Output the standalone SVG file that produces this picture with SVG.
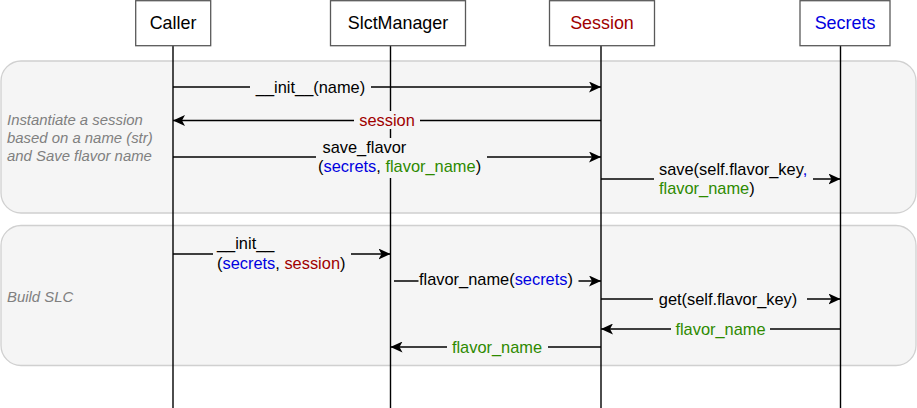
<svg xmlns="http://www.w3.org/2000/svg" width="917" height="408" viewBox="0 0 917 408">
<defs>
<style>
.grp{fill:#f5f5f5;stroke:#d0d0d0;stroke-width:1.3}
.box{fill:#ffffff;stroke:#595959;stroke-width:1.3}
.life{stroke:#000;stroke-width:1.4;fill:none}
.msg{stroke:#000;stroke-width:1.4;fill:none}
.arr{marker-end:url(#ah)}
.bg{fill:#f5f5f5}
.nt{font-family:"Liberation Sans",Arial,sans-serif;font-size:17.9px;text-anchor:middle}
.t{font-family:"Liberation Sans",Arial,sans-serif;font-size:16.4px;fill:#000}
.gl{font-family:"Liberation Sans",Arial,sans-serif;font-size:14.9px;font-style:italic;fill:#808080}
.r{fill:#a00000}
.b{fill:#0000e0}
.g{fill:#2d8a00}
.m{text-anchor:middle}
</style>
<marker id="ah" viewBox="0 0 12 11" refX="12" refY="5.5" markerWidth="12" markerHeight="11" orient="auto" markerUnits="userSpaceOnUse">
<path d="M0,0 L12,5.5 L0,11 L3,5.5 Z" fill="#000"/>
</marker>
</defs>

<g id="group-instantiate">
<rect class="grp" x="1" y="61" width="915" height="152" rx="20"/>
<text class="gl" x="7" y="125">Instantiate a session</text>
<text class="gl" x="7" y="143">based on a name (str)</text>
<text class="gl" x="7" y="161">and Save flavor name</text>
</g>
<g id="group-build">
<rect class="grp" x="1" y="225.5" width="915" height="140" rx="20"/>
<text class="gl" x="7" y="302.3">Build SLC</text>
</g>

<g id="lifelines">
<line class="life" x1="173" y1="45" x2="173" y2="408"/>
<line class="life" x1="390.5" y1="45" x2="390.5" y2="408"/>
<line class="life" x1="601" y1="45" x2="601" y2="408"/>
<line class="life" x1="840.5" y1="45" x2="840.5" y2="408"/>
</g>

<g id="node-caller">
<rect class="box" x="135.7" y="0.7" width="75" height="45"/>
<text class="nt" x="173" y="29.3">Caller</text>
</g>
<g id="node-slctmanager">
<rect class="box" x="330.5" y="0.7" width="135" height="45"/>
<text class="nt" x="398" y="29.3">SlctManager</text>
</g>
<g id="node-session">
<rect class="box" x="549.5" y="0.7" width="105" height="45"/>
<text class="nt r" x="602" y="29.3">Session</text>
</g>
<g id="node-secrets">
<rect class="box" x="800" y="0.7" width="90" height="45"/>
<text class="nt b" x="845" y="29.3">Secrets</text>
</g>

<g id="connectors">
<!-- 1 -->
<line class="msg arr" x1="173" y1="87" x2="601" y2="87"/>
<rect class="bg" x="250" y="78" width="121" height="18"/>
<text class="t m" x="310.5" y="92.5">__init__(name)</text>
<!-- 2 -->
<line class="msg arr" x1="601" y1="120.5" x2="173" y2="120.5"/>
<rect class="bg" x="354" y="111" width="66" height="18"/>
<text class="t m r" x="387" y="126">session</text>
<!-- 3 -->
<line class="msg arr" x1="173" y1="157" x2="601" y2="157"/>
<rect class="bg" x="316" y="138" width="171" height="40"/>
<text class="t" x="322.5" y="152.5">save_flavor</text>
<text class="t" x="318" y="171.7">(<tspan class="b">secrets</tspan>, <tspan class="g">flavor_name</tspan>)</text>
<!-- 4 -->
<line class="msg arr" x1="601" y1="179" x2="840.5" y2="179"/>
<rect class="bg" x="654" y="160" width="159" height="40"/>
<text class="t" x="659" y="174.5">save(self.flavor_key<tspan class="b">,</tspan></text>
<text class="t" x="659" y="193.7"><tspan class="g">flavor_name</tspan>)</text>
<!-- 5 -->
<line class="msg arr" x1="173" y1="254" x2="390.5" y2="254"/>
<rect class="bg" x="213" y="235" width="138" height="40"/>
<text class="t" x="217" y="249">__init__</text>
<text class="t" x="217" y="268.5">(<tspan class="b">secrets</tspan>, <tspan class="r">session</tspan>)</text>
<!-- 6 -->
<line class="msg arr" x1="394" y1="281" x2="601" y2="281"/>
<rect class="bg" x="418.5" y="271" width="160" height="18"/>
<text class="t" x="419" y="284.5">flavor_name(<tspan class="b">secrets</tspan>)</text>
<!-- 7 -->
<line class="msg arr" x1="601" y1="299" x2="840.5" y2="299"/>
<rect class="bg" x="653" y="290" width="154" height="18"/>
<text class="t m" x="728" y="304.5">get(self.flavor_key)</text>
<!-- 8 -->
<line class="msg arr" x1="840.5" y1="329" x2="601" y2="329"/>
<rect class="bg" x="671" y="320" width="99" height="18"/>
<text class="t m g" x="720.5" y="334.5">flavor_name</text>
<!-- 9 -->
<line class="msg arr" x1="601" y1="347" x2="390.5" y2="347"/>
<rect class="bg" x="447" y="338" width="101" height="18"/>
<text class="t m g" x="497" y="352.5">flavor_name</text>
</g>
</svg>
